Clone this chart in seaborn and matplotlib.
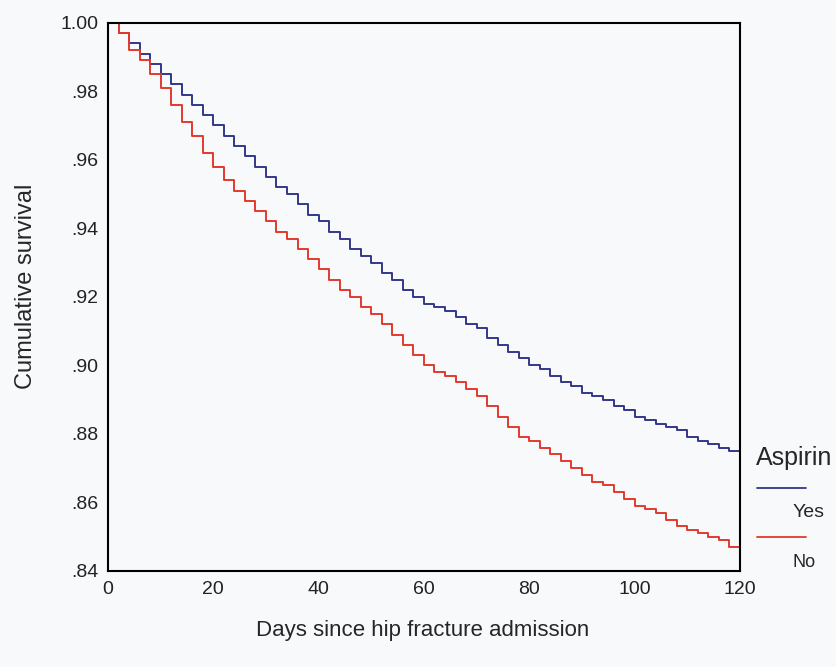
import numpy as np
import pandas as pd
import matplotlib
matplotlib.use("Agg")
import matplotlib.pyplot as plt
import seaborn as sns
from matplotlib.lines import Line2D

# Days since admission (read every 2 days)
days = list(range(0, 121, 2))

# Cumulative survival, aspirin = Yes
surv_yes = [1.000, 0.997, 0.994, 0.991, 0.988, 0.985, 0.982, 0.979, 0.976, 0.973,
            0.970, 0.967, 0.964, 0.961, 0.958, 0.955, 0.952, 0.950, 0.947, 0.944,
            0.942, 0.939, 0.937, 0.934, 0.932, 0.930, 0.927, 0.925, 0.922, 0.920,
            0.918, 0.917, 0.916, 0.914, 0.912, 0.911, 0.908, 0.906, 0.904, 0.902,
            0.900, 0.899, 0.897, 0.895, 0.894, 0.892, 0.891, 0.890, 0.888, 0.887,
            0.885, 0.884, 0.883, 0.882, 0.881, 0.879, 0.878, 0.877, 0.876, 0.875,
            0.874]

# Cumulative survival, aspirin = No
surv_no = [1.000, 0.997, 0.992, 0.989, 0.985, 0.981, 0.976, 0.971, 0.967, 0.962,
           0.958, 0.954, 0.951, 0.948, 0.945, 0.942, 0.939, 0.937, 0.934, 0.931,
           0.928, 0.925, 0.922, 0.920, 0.917, 0.915, 0.912, 0.909, 0.906, 0.903,
           0.900, 0.898, 0.897, 0.895, 0.893, 0.891, 0.888, 0.885, 0.882, 0.879,
           0.878, 0.876, 0.874, 0.872, 0.870, 0.868, 0.866, 0.865, 0.863, 0.861,
           0.859, 0.858, 0.857, 0.855, 0.853, 0.852, 0.851, 0.850, 0.849, 0.847,
           0.846]

groups = ["Yes", "No"]
colors = {"Yes": "#33378a", "No": "#e2392f"}
bg = "#f8f9fb"

df = pd.concat([
    pd.DataFrame({"day": days, "surv": surv_yes, "Aspirin": "Yes"}),
    pd.DataFrame({"day": days, "surv": surv_no, "Aspirin": "No"}),
])

sns.set_style("white")
plt.rcParams["font.family"] = ["Liberation Sans", "DejaVu Sans"]

fig = plt.figure(figsize=(8.37, 6.67), dpi=100, facecolor=bg)
ax = fig.add_axes([0.129, 0.144, 0.755, 0.822])
ax.set_facecolor(bg)

sns.lineplot(data=df, x="day", y="surv", hue="Aspirin", hue_order=groups,
             palette=colors, estimator=None, drawstyle="steps-post",
             linewidth=1.4, legend=False, ax=ax)

ax.set_xlim(0, 120)
ax.set_ylim(0.84, 1.00)
ax.set_xticks([0, 20, 40, 60, 80, 100, 120])
yt = [0.84, 0.86, 0.88, 0.90, 0.92, 0.94, 0.96, 0.98, 1.00]
ax.set_yticks(yt)
ax.set_yticklabels([("%.2f" % v).lstrip("0") if v < 1 else "1.00" for v in yt])
ax.tick_params(direction="out", length=3, width=3, color="black",
               labelsize=14, labelcolor="#222222", pad=4)
for s in ax.spines.values():
    s.set_color("black")
    s.set_linewidth(1.5)

ax.set_xlabel("")
ax.set_ylabel("")
fig.text(0.505, 0.055, "Days since hip fracture admission", ha="center",
         va="center", fontsize=16)
fig.text(0.031, 0.57, "Cumulative survival", ha="center", va="center",
         rotation=90, fontsize=17)

# legend drawn by hand (title above, lines above labels)
fig.text(0.903, 0.313, "Aspirin", ha="left", va="center", fontsize=18)
fig.add_artist(Line2D([0.905, 0.963], [0.268, 0.268], color=colors["Yes"], lw=1.3))
fig.text(0.947, 0.231, "Yes", ha="left", va="center", fontsize=14)
fig.add_artist(Line2D([0.905, 0.963], [0.195, 0.195], color=colors["No"], lw=1.3))
fig.text(0.947, 0.157, "No", ha="left", va="center", fontsize=13)

fig.savefig("out.png", dpi=100, facecolor=bg)
